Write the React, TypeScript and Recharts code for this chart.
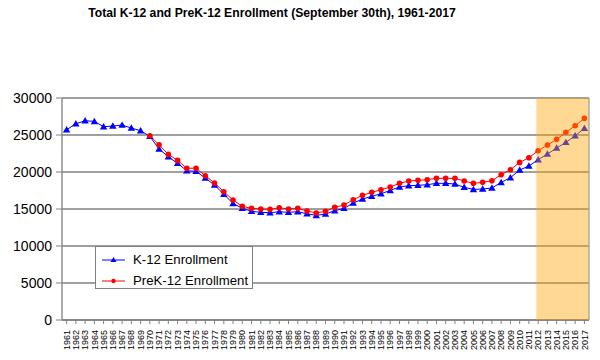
import React from "react";
import {
  ComposedChart,
  Line,
  XAxis,
  YAxis,
  CartesianGrid,
  ReferenceArea,
  ReferenceLine,
} from "recharts";

const years = [
  1961, 1962, 1963, 1964, 1965, 1966, 1967, 1968, 1969, 1970,
  1971, 1972, 1973, 1974, 1975, 1976, 1977, 1978, 1979, 1980,
  1981, 1982, 1983, 1984, 1985, 1986, 1987, 1988, 1989, 1990,
  1991, 1992, 1993, 1994, 1995, 1996, 1997, 1998, 1999, 2000,
  2001, 2002, 2003, 2004, 2005, 2006, 2007, 2008, 2009, 2010,
  2011, 2012, 2013, 2014, 2015, 2016, 2017,
];

const k12 = [
  25710, 26520, 26930, 26840, 26120, 26210, 26340, 25940, 25580, 24820,
  23100, 22060, 21170, 20170, 20090, 19180, 18240, 16980, 15760, 15090,
  14690, 14550, 14500, 14630, 14550, 14630, 14360, 14140, 14320, 14770,
  15090, 15810, 16350, 16710, 17060, 17520, 17970, 18150, 18200, 18280,
  18470, 18470, 18370, 17930, 17650, 17700, 17830, 18600, 19230, 20270,
  20810, 21660, 22430, 23240, 24010, 24900, 25900,
];

const prek12: (number | null)[] = [
  null, null, null, null, null, null, null, null, null, 24900,
  23680, 22380, 21570, 20510, 20510, 19500, 18510, 17340, 16210, 15360,
  15090, 15000, 14950, 15170, 15000, 15090, 14730, 14460, 14690, 15220,
  15540, 16250, 16850, 17250, 17600, 17970, 18470, 18780, 18870, 18960,
  19140, 19140, 19140, 18780, 18470, 18600, 18820, 19630, 20310, 21300,
  21930, 22870, 23640, 24410, 25360, 26250, 27250,
];

const yTicks = [0, 5000, 10000, 15000, 20000, 25000, 30000];
const projectionStart = 2011.8;
const projectionEnd = 2017.5;

const data = years.map((y, i) => ({ year: y, k12: k12[i], prek12: prek12[i] }));

const FONT = "'Liberation Sans', Arial, sans-serif";

const Triangle = (props: any) => {
  const { cx, cy, fill, index } = props;
  if (cx == null || cy == null) return <g key={"t" + index} />;
  const s = 3.7;
  return (
    <path
      key={"t" + index}
      d={`M${cx},${cy - s} L${cx + s},${cy + s * 0.75} L${cx - s},${cy + s * 0.75} Z`}
      fill={fill}
    />
  );
};

const Dot = (props: any) => {
  const { cx, cy, fill, index } = props;
  if (cx == null || cy == null) return <g key={"d" + index} />;
  return <circle key={"d" + index} cx={cx} cy={cy} r={2.8} fill={fill} />;
};

const XTick = (props: any) => {
  const { x, y, payload } = props;
  return (
    <text
      x={x}
      y={y + 4}
      transform={`rotate(-90, ${x}, ${y + 4})`}
      textAnchor="end"
      dy="0.35em"
      fontSize={9}
      fontFamily={FONT}
      fill="#000"
    >
      {payload.value}
    </text>
  );
};

const legendItems = [
  { label: "K-12 Enrollment", color: "#0000FF", tri: true },
  { label: "PreK-12 Enrollment", color: "#FF0000", tri: false },
];

const LegendBox = () => (
  <div
    style={{
      position: "absolute",
      left: 95,
      top: 246,
      width: 158,
      height: 43,
      border: "1px solid #808080",
      background: "#fff",
      fontFamily: FONT,
      fontSize: 13.2,
      color: "#000",
      whiteSpace: "nowrap",
      paddingTop: 3,
      boxSizing: "border-box",
    }}
  >
    {legendItems.map((it) => (
      <div key={it.label} style={{ display: "flex", alignItems: "center", height: 20.5 }}>
        <svg width={32} height={12} style={{ marginLeft: 5, flex: "none" }}>
          <line x1={1} y1={6} x2={24} y2={6} stroke={it.color} strokeWidth={1} />
          {it.tri ? (
            <path d="M12.5,3 L15.5,8 L9.5,8 Z" fill={it.color} />
          ) : (
            <circle cx={12.5} cy={6} r={2.2} fill={it.color} />
          )}
        </svg>
        <span style={{ lineHeight: "16px" }}>{it.label}</span>
      </div>
    ))}
  </div>
);

export default function App() {
  return (
    <div style={{ position: "absolute", left: 0, top: 0, width: 600, height: 360, background: "#fff" }}>
      <div
        style={{
          position: "absolute",
          left: 0,
          top: 6,
          width: 544,
          textAlign: "center",
          fontFamily: FONT,
          fontWeight: "bold",
          fontSize: 12.2,
          color: "#000",
          lineHeight: "15px",
        }}
      >
        Total K-12 and PreK-12 Enrollment (September 30th), 1961-2017
      </div>
      <ComposedChart
        width={600}
        height={360}
        data={data}
        margin={{ top: 98, right: 11, left: 0, bottom: 0 }}
      >
        <CartesianGrid vertical={false} stroke="#808080" strokeWidth={1.3} />
        <XAxis
          dataKey="year"
          type="number"
          domain={[1960.5, 2017.5]}
          ticks={years}
          interval={0}
          allowDataOverflow
          height={40}
          tick={<XTick />}
          tickSize={4}
          tickLine={{ stroke: "#808080" }}
          axisLine={{ stroke: "#808080", strokeWidth: 1.3 }}
        />
        <YAxis
          width={62}
          domain={[0, 30000]}
          ticks={yTicks}
          interval={0}
          tickSize={6}
          tickMargin={4}
          tick={{ fontSize: 14, fontFamily: FONT, fill: "#000" }}
          tickLine={{ stroke: "#808080" }}
          axisLine={{ stroke: "#808080", strokeWidth: 1.3 }}
        />
        <Line
          dataKey="k12"
          name="K-12 Enrollment"
          stroke="#0000FF"
          strokeWidth={1}
          fill="#0000FF"
          dot={<Triangle />}
          activeDot={false}
          isAnimationActive={false}
        />
        <Line
          dataKey="prek12"
          name="PreK-12 Enrollment"
          stroke="#FF0000"
          strokeWidth={1}
          fill="#FF0000"
          dot={<Dot />}
          activeDot={false}
          connectNulls={false}
          isAnimationActive={false}
        />
        <ReferenceArea
          x1={projectionStart}
          x2={projectionEnd}
          y1={0}
          y2={30000}
          fill="#FFA500"
          fillOpacity={0.42}
          stroke="none"
          ifOverflow="hidden"
          zIndex={1000}
        />
        <ReferenceLine x={projectionEnd} stroke="#A0A0A0" strokeWidth={1.3} zIndex={1000} />
      </ComposedChart>
      <LegendBox />
    </div>
  );
}
